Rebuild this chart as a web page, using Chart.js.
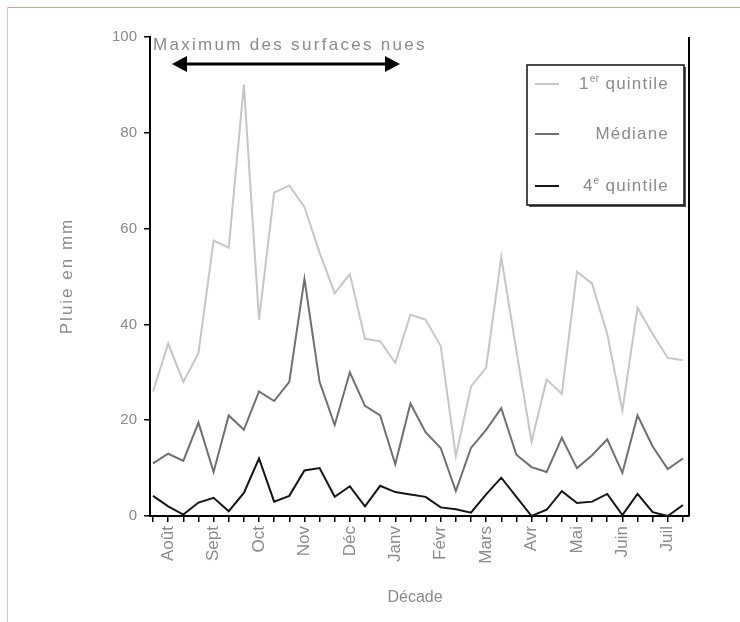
<!DOCTYPE html>
<html>
<head>
<meta charset="utf-8">
<script src="https://cdn.jsdelivr.net/npm/chart.js@4.4.1/dist/chart.umd.min.js"></script>
<style>
  html, body { margin: 0; padding: 0; background: #fff; }
  #wrap { position: relative; width: 740px; height: 622px; }
  #frameTop { position: absolute; left: 7px; top: 7px; width: 733px; height: 1px; background: #e89a80; }
  #frameLeft { position: absolute; left: 7px; top: 7px; width: 1px; height: 615px; background: #cfcfcf; }
  canvas { position: absolute; left: 0; top: 0; }
</style>
</head>
<body>
<div id="wrap">
  <canvas id="chart" width="740" height="622"></canvas>
  <div id="frameTop"></div>
  <div id="frameLeft"></div>
</div>
<script>
// mois (une étiquette au milieu de chaque mois, 3 décades par mois)
var months = ['Août', 'Sept', 'Oct', 'Nov', 'Déc', 'Janv', 'Févr', 'Mars', 'Avr', 'Mai', 'Juin', 'Juil'];
var yTicks = [0, 20, 40, 60, 80, 100];

// pluie par décade (mm)
var quintile1 = [26, 36, 28, 34, 57.5, 56, 90, 41, 67.5, 69, 64.5, 55,
                 46.5, 50.5, 37, 36.5, 32, 42, 41, 35.5, 12.5, 27, 31, 54,
                 34.5, 15.5, 28.5, 25.5, 51, 48.5, 38, 22, 43.5, 38, 33, 32.5];
var mediane   = [11, 13, 11.5, 19.5, 9.2, 21, 18, 26, 24, 28, 49.5, 28,
                 19, 30, 23, 21, 10.8, 23.5, 17.5, 14.2, 5.2, 14.2, 18, 22.5,
                 12.8, 10.2, 9.2, 16.3, 10, 12.7, 16, 9, 21, 14.5, 9.8, 12];
var quintile4 = [4.2, 2, 0.3, 2.8, 3.8, 1, 4.8, 12, 3, 4.2, 9.5, 10,
                 4, 6.2, 2, 6.3, 5, 4.5, 4, 1.8, 1.4, 0.7, 4.5, 8,
                 4, 0, 1.3, 5.2, 2.7, 3, 4.6, 0.2, 4.6, 0.8, 0, 2.3];

var seriesNames = ['quintile', 'Médiane', 'quintile'];
var seriesColors = ['#c6c6c6', '#6f6f6f', '#151515'];
var textColor = '#8a8a8a';
var fontFamily = '"Liberation Sans", Arial, sans-serif';

//transforme un tableau de valeurs en points x/y
function toPoints(values) {
  return values.map(function(v, i) { return { x: i, y: v }; });
}

function makeDataset(values, color) {
  return {
    data: toPoints(values),
    borderColor: color,
    borderWidth: 2,
    pointRadius: 0,
    tension: 0,
    fill: false
  };
}

//plugin pour la légende, la flèche, les titres et le cadre à droite
var decorPlugin = {
  id: 'decor',
  afterDraw: function(chart) {
    var ctx = chart.ctx;
    var area = chart.chartArea;
    ctx.save();

    // bord droit
    ctx.strokeStyle = '#000';
    ctx.lineWidth = 2;
    ctx.beginPath();
    ctx.moveTo(area.right, area.top);
    ctx.lineTo(area.right, area.bottom);
    ctx.stroke();

    // titres d'axes
    ctx.fillStyle = textColor;
    ctx.font = '16px ' + fontFamily;
    ctx.textAlign = 'center';
    ctx.textBaseline = 'middle';
    ctx.fillText('Décade', 415, 598);
    ctx.save();
    ctx.translate(67, 276);
    ctx.rotate(-Math.PI / 2);
    ctx.font = '17px ' + fontFamily;
    ctx.letterSpacing = '2px';
    ctx.fillText('Pluie en mm', 0, 0);
    ctx.letterSpacing = '0px';
    ctx.restore();

    // annotation
    ctx.textAlign = 'left';
    ctx.textBaseline = 'alphabetic';
    ctx.font = '17px ' + fontFamily;
    ctx.letterSpacing = '2.3px';
    ctx.fillText('Maximum des surfaces nues', 153, 50);
    ctx.letterSpacing = '0px';

    // flèche double
    var ay = 64, ax1 = 172, ax2 = 400;
    ctx.strokeStyle = '#000';
    ctx.fillStyle = '#000';
    ctx.lineWidth = 3;
    ctx.beginPath();
    ctx.moveTo(ax1 + 10, ay);
    ctx.lineTo(ax2 - 10, ay);
    ctx.stroke();
    ctx.beginPath();
    ctx.moveTo(ax1, ay);
    ctx.lineTo(ax1 + 15, ay - 8);
    ctx.lineTo(ax1 + 15, ay + 8);
    ctx.closePath();
    ctx.fill();
    ctx.beginPath();
    ctx.moveTo(ax2, ay);
    ctx.lineTo(ax2 - 15, ay - 8);
    ctx.lineTo(ax2 - 15, ay + 8);
    ctx.closePath();
    ctx.fill();

    // légende
    var lx = 527, ly = 65, lw = 157, lh = 140;
    ctx.fillStyle = '#555';
    ctx.fillRect(lx + 2, ly + 2, lw, lh);
    ctx.fillStyle = '#fff';
    ctx.fillRect(lx, ly, lw, lh);
    ctx.strokeStyle = '#111';
    ctx.lineWidth = 1.5;
    ctx.strokeRect(lx, ly, lw, lh);

    var rows = [84, 134, 186];
    var sups = ['er', '', 'e'];
    var pre = ['1', '', '4'];
    var right = 669;
    var big = '17px ' + fontFamily;
    var small = '10px ' + fontFamily;
    ctx.textBaseline = 'middle';
    ctx.textAlign = 'left';
    for (var i = 0; i < rows.length; i++) {
      ctx.strokeStyle = seriesColors[i];
      ctx.lineWidth = 2;
      ctx.beginPath();
      ctx.moveTo(535, rows[i]);
      ctx.lineTo(559, rows[i]);
      ctx.stroke();

      ctx.fillStyle = textColor;
      var label = (pre[i] ? ' ' : '') + seriesNames[i];
      ctx.letterSpacing = '1.2px';
      ctx.font = big;
      var wMain = ctx.measureText(label).width;
      var wPre = ctx.measureText(pre[i]).width;
      ctx.font = small;
      ctx.letterSpacing = '0.5px';
      var wSup = ctx.measureText(sups[i]).width;
      var x = right - wMain - wSup - wPre;
      ctx.letterSpacing = '1.2px';
      ctx.font = big;
      ctx.fillText(pre[i], x, rows[i]);
      ctx.fillText(label, x + wPre + wSup, rows[i]);
      ctx.letterSpacing = '0.5px';
      ctx.font = small;
      ctx.fillText(sups[i], x + wPre, rows[i] - 5);
    }
    ctx.letterSpacing = '0px';
    ctx.restore();
  }
};

new Chart(document.getElementById('chart'), {
  type: 'line',
  data: {
    datasets: [
      makeDataset(quintile1, seriesColors[0]),
      makeDataset(mediane, seriesColors[1]),
      makeDataset(quintile4, seriesColors[2])
    ]
  },
  options: {
    responsive: false,
    animation: false,
    devicePixelRatio: 1,
    layout: { padding: { left: 0, right: 51, top: 37, bottom: 0 } },
    plugins: { legend: { display: false }, tooltip: { enabled: false } },
    scales: {
      x: {
        type: 'linear',
        min: -0.2,
        max: 35.4,
        afterFit: function(s) { s.height = 106; },
        grid: { drawOnChartArea: false, color: '#000', lineWidth: 1.5, tickLength: 6 },
        border: { display: true, color: '#000', width: 2 },
        ticks: {
          stepSize: 1,
          autoSkip: false,
          includeBounds: false,
          maxRotation: 90,
          minRotation: 90,
          padding: 4,
          color: textColor,
          font: { family: fontFamily, size: 17 },
          callback: function(v) {
            return (v % 3 === 1) ? months[(v - 1) / 3] : '';
          }
        }
      },
      y: {
        min: 0,
        max: 100,
        afterFit: function(s) { s.width = 150; },
        afterBuildTicks: function(s) {
          s.ticks = yTicks.map(function(v) { return { value: v }; });
        },
        grid: { drawOnChartArea: false, color: '#000', lineWidth: 1.5, tickLength: 6 },
        border: { display: true, color: '#000', width: 2 },
        ticks: {
          padding: 7,
          color: textColor,
          font: { family: fontFamily, size: 15 }
        }
      }
    }
  },
  plugins: [decorPlugin]
});
</script>
</body>
</html>
